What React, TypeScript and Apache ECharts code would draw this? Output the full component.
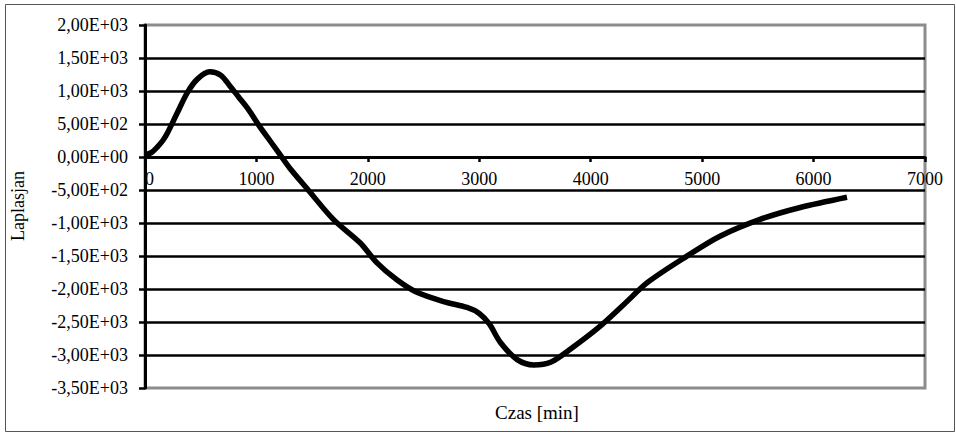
import React, { useEffect, useRef } from "react";
import * as echarts from "echarts";

const timeMin = [0, 60, 110, 160, 200, 290, 380, 470, 580, 680, 760, 840, 920, 1030, 1120, 1210, 1300, 1450, 1690, 1930, 2080, 2260, 2440, 2680, 2890, 3000, 3090, 3190, 3340, 3490, 3640, 3810, 4080, 4300, 4510, 4860, 5160, 5520, 5880, 6300];
const laplasjan = [30, 70, 150, 250, 360, 670, 975, 1180, 1290, 1240, 1080, 910, 740, 460, 250, 40, -170, -470, -945, -1300, -1600, -1860, -2050, -2190, -2280, -2370, -2530, -2810, -3070, -3150, -3110, -2920, -2570, -2230, -1900, -1505, -1200, -945, -765, -610];

const xTitle = "Czas [min]";
const yTitle = "Laplasjan";
const FONT = "'Liberation Serif', 'Times New Roman', serif";

function fmtSci(v: number): string {
  if (v === 0) return "0,00E+00";
  const sign = v < 0 ? "-" : "";
  const a = Math.abs(v);
  let e = Math.floor(Math.log10(a));
  let m = a / Math.pow(10, e);
  if (Number(m.toFixed(2)) >= 10) {
    m = m / 10;
    e += 1;
  }
  const es = (e < 0 ? "-" : "+") + String(Math.abs(e)).padStart(2, "0");
  return sign + m.toFixed(2).replace(".", ",") + "E" + es;
}

export default function App() {
  const ref = useRef<HTMLDivElement>(null);
  useEffect(() => {
    if (!ref.current) return;
    const chart = echarts.init(ref.current, null, { renderer: "svg" });
    const data = timeMin.map((t, i) => [t, laplasjan[i]]);
    chart.setOption({
      animation: false,
      backgroundColor: "#fff",
      grid: {
        left: 145,
        top: 25,
        right: 31,
        bottom: 45,
        show: true,
        borderColor: "#8c8c8c",
        borderWidth: 3,
        backgroundColor: "transparent",
        outerBoundsMode: "none",
      },
      xAxis: {
        type: "value",
        min: 0,
        max: 7000,
        interval: 1000,
        offset: -231,
        axisLine: { show: true, onZero: false, lineStyle: { color: "#000", width: 3 } },
        axisTick: { show: true, inside: false, length: 5, lineStyle: { color: "#000", width: 2.5 } },
        axisLabel: {
          margin: 13,
          color: "#000",
          fontFamily: FONT,
          fontSize: 18,
          alignMinLabel: "left",
          formatter: (v: number) => String(v),
        },
        splitLine: { show: false },
      },
      yAxis: {
        type: "value",
        min: -3500,
        max: 2000,
        interval: 500,
        axisLine: { show: true, onZero: false, lineStyle: { color: "#000", width: 3 } },
        axisTick: { show: true, inside: false, length: 6, lineStyle: { color: "#000", width: 2.5 } },
        axisLabel: {
          margin: 17,
          color: "#000",
          fontFamily: FONT,
          fontSize: 18,
          formatter: (v: number) => fmtSci(v),
        },
        splitLine: {
          show: true,
          showMinLine: false,
          showMaxLine: false,
          lineStyle: { color: "#000", width: 2.5 },
        },
      },
      graphic: [
        {
          type: "rect",
          shape: { x: 5.5, y: 4.5, width: 949, height: 427 },
          style: { fill: "none", stroke: "#555", lineWidth: 1 },
          silent: true,
          z: 100,
        },
        {
          type: "text",
          x: 537,
          y: 412,
          style: {
            text: xTitle,
            fill: "#000",
            font: `19px ${FONT}`,
            textAlign: "center",
            textVerticalAlign: "middle",
          },
        },
        {
          type: "text",
          x: 18,
          y: 206,
          rotation: Math.PI / 2,
          style: {
            text: yTitle,
            fill: "#000",
            font: `18px ${FONT}`,
            textAlign: "center",
            textVerticalAlign: "middle",
          },
        },
      ],
      series: [
        {
          type: "line",
          data,
          showSymbol: false,
          smooth: 0.3,
          lineStyle: { color: "#000", width: 5.5 },
          z: 5,
        },
      ],
    });
    return () => chart.dispose();
  }, []);
  return (
    <div
      ref={ref}
      style={{ position: "fixed", left: 0, top: 0, width: 956, height: 433 }}
    />
  );
}
